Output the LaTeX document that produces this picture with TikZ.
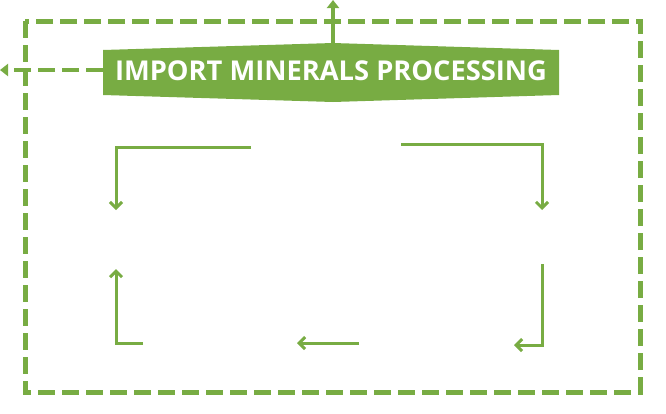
\documentclass[tikz,border=0pt]{standalone}
\usepackage{fontspec}
\setmainfont{Open Sans}
\usetikzlibrary{arrows.meta}
\definecolor{leaf}{RGB}{120,172,67}
\begin{document}
\begin{tikzpicture}[x=1pt,y=-1pt,
  frame/.style={draw=leaf, line width=5pt, dash pattern=on 17pt off 7pt},
  flow/.style={draw=leaf, line width=3pt, -{Straight Barb[length=6pt,width=12pt]}},
  exit/.style={draw=leaf, line width=3.5pt, -{Triangle[length=8pt,width=12pt]}},
  ttl/.style={text=white, font=\bfseries\fontsize{27.3}{30}\selectfont, inner sep=0pt}]
\useasboundingbox (0,0) rectangle (666,413);
\draw[frame] (25,21) rectangle (640,392);
% banner
\fill[leaf] (103,50) -- (333,43) -- (559,50) -- (559,95) -- (333,102) -- (103,95) -- cycle;
\node[ttl] (title) at (331,71) {IMPORT MINERALS PROCESSING};
\coordinate (peak) at (333,43);
\coordinate (up) at (333,0);
\coordinate (side) at (103,70);
\coordinate (left) at (0,70);
\draw[exit] (peak) -- (up);
\draw[exit, dash pattern=on 17pt off 7pt] (side) -- (left);
% cycle of arrows
\coordinate (a1) at (251,147); \coordinate (a2) at (116,147); \coordinate (a3) at (116,210);
\coordinate (b1) at (401,144); \coordinate (b2) at (542,144); \coordinate (b3) at (542,210);
\coordinate (c1) at (542,264); \coordinate (c2) at (542,345); \coordinate (c3) at (514,345);
\coordinate (d1) at (359,343); \coordinate (d2) at (297,343);
\coordinate (e1) at (143,343); \coordinate (e2) at (116,343); \coordinate (e3) at (116,269);
\draw[flow] (a1) -- (a2) -- (a3);
\draw[flow] (b1) -- (b2) -- (b3);
\draw[flow] (c1) -- (c2) -- (c3);
\draw[flow] (d1) -- (d2);
\draw[flow] (e1) -- (e2) -- (e3);
\end{tikzpicture}
\end{document}
